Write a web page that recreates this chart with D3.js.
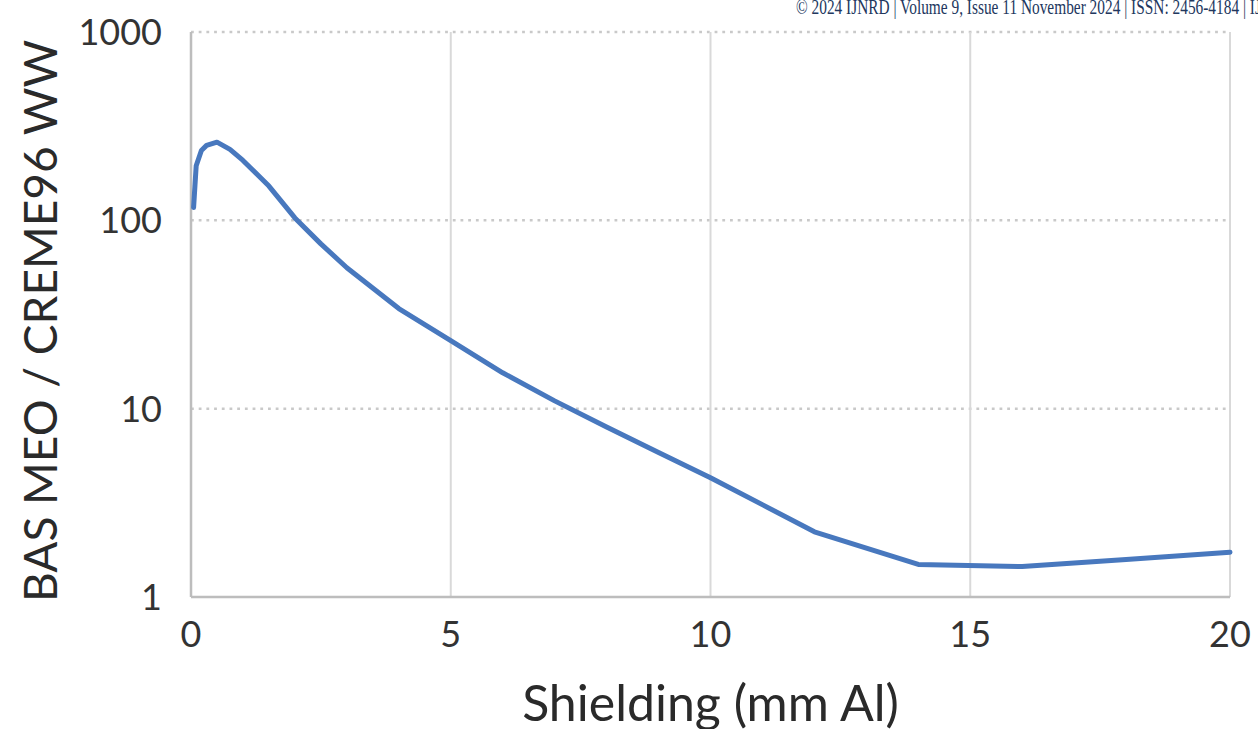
<!DOCTYPE html>
<html>
<head>
<meta charset="utf-8">
<script src="https://cdn.jsdelivr.net/npm/d3@7"></script>
<style>
  html, body { margin: 0; padding: 0; background: #fff; overflow: hidden; }
  svg { display: block; }
</style>
</head>
<body>
<svg id="chart" width="1258" height="729"></svg>
<script>
// Shielding thickness (mm Al) and the BAS MEO / CREME96 WW ratio at each thickness
const shielding = [0.05, 0.1, 0.2, 0.3, 0.5, 0.75, 1, 1.5, 2, 2.5, 3, 4, 5, 6, 7, 8, 9, 10, 12, 14, 16, 18, 20];
const ratio = [117, 195, 235, 250, 260, 238, 208, 152, 103, 75, 56, 34, 23, 15.5, 11, 8.0, 5.85, 4.3, 2.22, 1.49, 1.45, 1.58, 1.73];

const xTicks = [0, 5, 10, 15, 20];
const yTicks = [1, 10, 100, 1000];

const headerText = "© 2024 IJNRD | Volume 9, Issue 11 November 2024 | ISSN: 2456-4184 | IJNRD.ORG";
const xTitle = "Shielding (mm Al)";
const yTitle = "BAS MEO / CREME96 WW";

const svg = d3.select("#chart");
const plot = { left: 191, right: 1230, top: 32, bottom: 597 };

const x = d3.scaleLinear().domain([0, 20]).range([plot.left, plot.right]);
const y = d3.scaleLog().domain([1, 1000]).range([plot.bottom, plot.top]);

const labelFont = "Lato, 'Open Sans', sans-serif";
const gridColor = "#c9c9c9";

// journal header line (narrow serif running head)
svg.append("text")
  .attr("transform", "translate(796,14) scale(0.75,1)")
  .attr("font-family", "'Liberation Serif', 'DejaVu Serif', serif")
  .attr("font-size", 20.5)
  .attr("fill", "#22375e")
  .text(headerText);

// horizontal gridlines (dotted), one per decade
svg.append("g")
  .selectAll("line")
  .data(yTicks.filter(d => d > 1))
  .join("line")
  .attr("x1", plot.left)
  .attr("x2", plot.right)
  .attr("y1", d => y(d))
  .attr("y2", d => y(d))
  .attr("stroke", gridColor)
  .attr("stroke-width", 2.5)
  .attr("stroke-dasharray", "2.8,4.9");

// vertical gridlines
svg.append("g")
  .selectAll("line")
  .data(xTicks.filter(d => d > 0))
  .join("line")
  .attr("x1", d => x(d))
  .attr("x2", d => x(d))
  .attr("y1", plot.top)
  .attr("y2", plot.bottom)
  .attr("stroke", "#d9d9d9")
  .attr("stroke-width", 2);

// axis lines
const axisG = svg.append("g");
axisG.append("line")
  .attr("x1", x(0)).attr("x2", x(0))
  .attr("y1", plot.top).attr("y2", plot.bottom)
  .attr("stroke", "#bdbdbd").attr("stroke-width", 2.5);
axisG.append("line")
  .attr("x1", plot.left).attr("x2", plot.right)
  .attr("y1", y(1)).attr("y2", y(1))
  .attr("stroke", "#bdbdbd").attr("stroke-width", 2.5);

// y tick labels
svg.append("g")
  .selectAll("text")
  .data(yTicks)
  .join("text")
  .attr("x", 162)
  .attr("y", d => y(d))
  .attr("dy", "0.36em")
  .attr("text-anchor", "end")
  .attr("font-family", labelFont)
  .attr("font-size", 36)
  .attr("fill", "#333")
  .text(d => d3.format("d")(d));

// x tick labels
svg.append("g")
  .selectAll("text")
  .data(xTicks)
  .join("text")
  .attr("x", d => x(d))
  .attr("y", 647)
  .attr("text-anchor", "middle")
  .attr("font-family", labelFont)
  .attr("font-size", 36)
  .attr("fill", "#333")
  .text(d => d);

// axis titles
svg.append("text")
  .attr("x", (plot.left + plot.right) / 2)
  .attr("y", 721)
  .attr("text-anchor", "middle")
  .attr("font-family", labelFont)
  .attr("font-size", 50)
  .attr("fill", "#2a2a2a")
  .text(xTitle);

svg.append("text")
  .attr("transform", `translate(57, 321) rotate(-90)`)
  .attr("text-anchor", "middle")
  .attr("font-family", labelFont)
  .attr("font-size", 46)
  .attr("fill", "#2a2a2a")
  .text(yTitle);

// ratio curve
const points = shielding.map((s, i) => [s, ratio[i]]);
const line = d3.line()
  .x(d => x(d[0]))
  .y(d => y(d[1]))
  .curve(d3.curveLinear);

svg.append("path")
  .datum(points)
  .attr("d", line)
  .attr("fill", "none")
  .attr("stroke", "#4878be")
  .attr("stroke-width", 5)
  .attr("stroke-linejoin", "round")
  .attr("stroke-linecap", "round");
</script>
</body>
</html>
